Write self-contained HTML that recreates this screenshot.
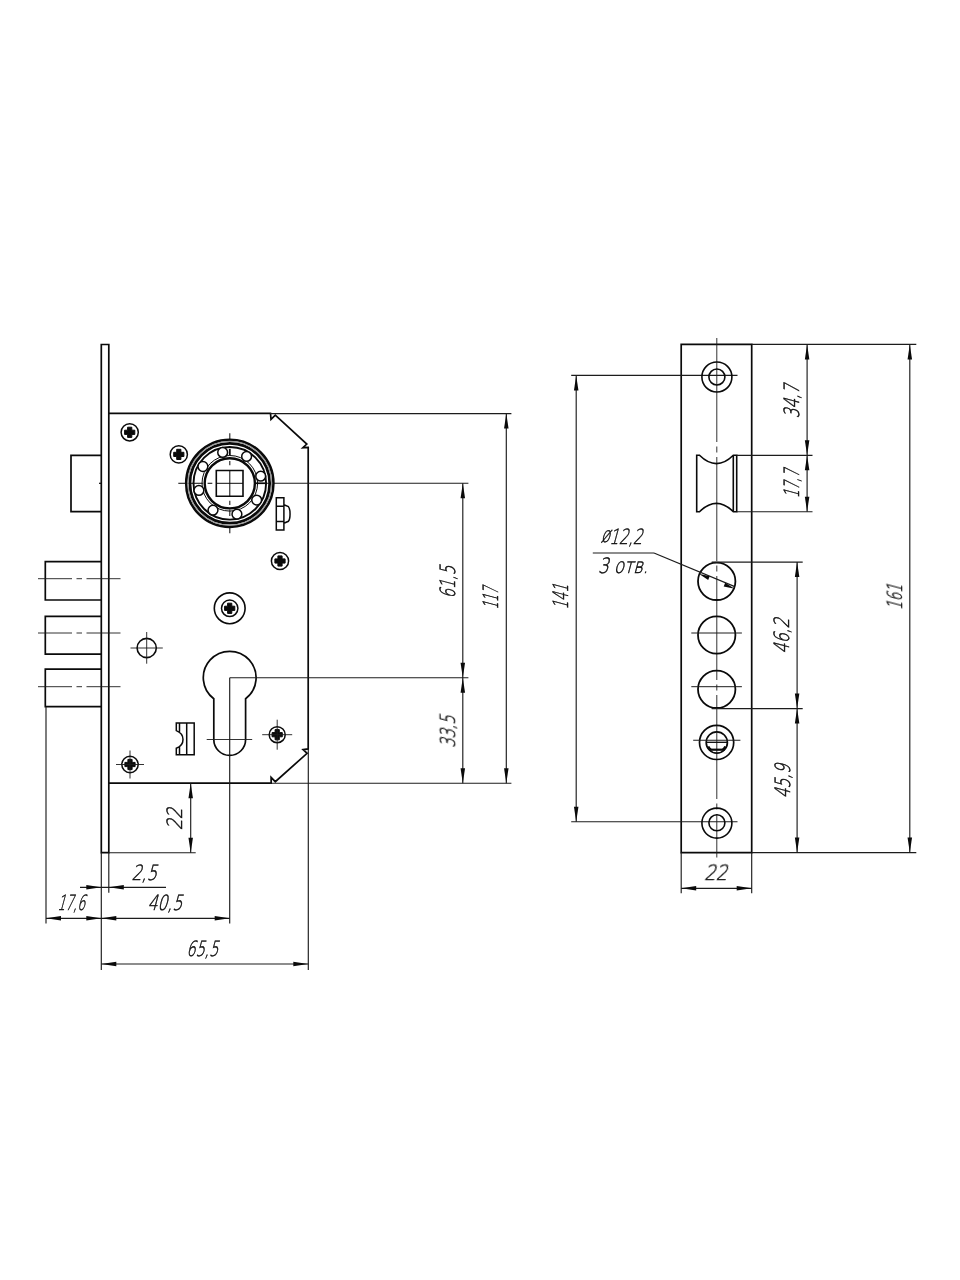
<!DOCTYPE html>
<html lang="ru"><head><meta charset="utf-8"><title>Чертёж замка</title>
<style>
html,body{margin:0;padding:0;background:#fff}
svg{display:block}
.t{font-family:"DejaVu Sans","Liberation Sans",sans-serif;font-weight:200;fill:#0c0c0c;stroke:#0c0c0c;stroke-width:0.5}
</style></head><body>
<svg width="960" height="1280" viewBox="0 0 960 1280">
<rect width="960" height="1280" fill="#fff"/>
<path d="M101.3,344.5 H108.8 V852.7 H101.3 Z" fill="none" stroke="#0a0a0a" stroke-width="1.7" stroke-linejoin="miter" />
<path d="M108.8,413.4 H270.5 L271,419.4 L275.3,415.2 L306.8,444 L302.8,447.7 L308.2,447.5 V748.9 L303.1,749.6 L307.1,753.3 L275.3,781.7 L271.1,777.3 L271.2,783.2 H108.8" fill="none" stroke="#0a0a0a" stroke-width="1.7" stroke-linejoin="miter" />
<path d="M101.3,455.3 H71 V511.7 H101.3" fill="none" stroke="#0a0a0a" stroke-width="1.7" stroke-linejoin="miter" />
<line x1="99" y1="483.3" x2="101.3" y2="483.3" stroke="#0a0a0a" stroke-width="1.2"/>
<path d="M101.3,561.7 H45.3 V600 H101.3" fill="none" stroke="#0a0a0a" stroke-width="1.7" stroke-linejoin="miter" />
<path d="M101.3,616.3 H45.3 V654.2 H101.3" fill="none" stroke="#0a0a0a" stroke-width="1.7" stroke-linejoin="miter" />
<path d="M101.3,669.2 H45.3 V706.7 H101.3" fill="none" stroke="#0a0a0a" stroke-width="1.7" stroke-linejoin="miter" />
<line x1="38" y1="578.7" x2="121.3" y2="578.7" stroke="#1c1c1c" stroke-width="0.9" stroke-dasharray="34 4.5 5.5 4.5"/>
<line x1="38" y1="633" x2="121.3" y2="633" stroke="#1c1c1c" stroke-width="0.9" stroke-dasharray="34 4.5 5.5 4.5"/>
<line x1="38" y1="686.7" x2="121.3" y2="686.7" stroke="#1c1c1c" stroke-width="0.9" stroke-dasharray="34 4.5 5.5 4.5"/>
<line x1="229.8" y1="433.3" x2="229.8" y2="440.5" stroke="#1c1c1c" stroke-width="1.1"/>
<line x1="229.8" y1="461" x2="229.8" y2="465.3" stroke="#1c1c1c" stroke-width="1.1"/>
<line x1="229.8" y1="500.7" x2="229.8" y2="504.9" stroke="#1c1c1c" stroke-width="1.1"/>
<line x1="229.8" y1="509.5" x2="229.8" y2="516" stroke="#1c1c1c" stroke-width="1.1"/>
<line x1="229.8" y1="526.5" x2="229.8" y2="533.3" stroke="#1c1c1c" stroke-width="1.1"/>
<line x1="178.3" y1="483.3" x2="203" y2="483.3" stroke="#1c1c1c" stroke-width="1.1"/>
<line x1="207.6" y1="483.3" x2="212.3" y2="483.3" stroke="#1c1c1c" stroke-width="1.1"/>
<line x1="255" y1="483.3" x2="468.4" y2="483.3" stroke="#1c1c1c" stroke-width="1.1"/>
<circle cx="229.8" cy="483.3" r="43.6" fill="none" stroke="#0a0a0a" stroke-width="2.6"/>
<circle cx="229.8" cy="483.3" r="39.9" fill="none" stroke="#0a0a0a" stroke-width="2.8"/>
<circle cx="229.8" cy="483.3" r="41.85" fill="none" stroke="#9a9a9a" stroke-width="1.3"/>
<line x1="229.8" y1="448.8" x2="229.8" y2="455.2" stroke="#0a0a0a" stroke-width="1.8"/>
<circle cx="229.8" cy="483.3" r="36.3" fill="none" stroke="#0a0a0a" stroke-width="1.9"/>
<circle cx="229.8" cy="483.3" r="27.8" fill="none" stroke="#0a0a0a" stroke-width="1.0"/>
<circle cx="229.8" cy="483.3" r="25.1" fill="none" stroke="#0a0a0a" stroke-width="2.4"/>
<circle cx="260.69" cy="476.17" r="4.9" fill="#fff" stroke="#0a0a0a" stroke-width="1.5"/>
<circle cx="256.68" cy="500.1" r="4.9" fill="#fff" stroke="#0a0a0a" stroke-width="1.5"/>
<circle cx="236.93" cy="514.19" r="4.9" fill="#fff" stroke="#0a0a0a" stroke-width="1.5"/>
<circle cx="213.0" cy="510.18" r="4.9" fill="#fff" stroke="#0a0a0a" stroke-width="1.5"/>
<circle cx="198.91" cy="490.43" r="4.9" fill="#fff" stroke="#0a0a0a" stroke-width="1.5"/>
<circle cx="202.92" cy="466.5" r="4.9" fill="#fff" stroke="#0a0a0a" stroke-width="1.5"/>
<circle cx="222.67" cy="452.41" r="4.9" fill="#fff" stroke="#0a0a0a" stroke-width="1.5"/>
<circle cx="246.6" cy="456.42" r="4.9" fill="#fff" stroke="#0a0a0a" stroke-width="1.5"/>
<path d="M216.3,470.5 H243 V496.3 H216.3 Z" fill="none" stroke="#0a0a0a" stroke-width="1.6" stroke-linejoin="miter" />
<line x1="229.8" y1="470.5" x2="229.8" y2="496.3" stroke="#0a0a0a" stroke-width="1.0"/>
<line x1="216.3" y1="483.3" x2="243" y2="483.3" stroke="#0a0a0a" stroke-width="1.0"/>
<line x1="255" y1="483.3" x2="266.5" y2="483.3" stroke="#0a0a0a" stroke-width="1.6"/>
<path d="M276.3,497.7 H283.9 V530 H276.3 Z M276.3,506.2 H283.9 M276.3,521.4 H283.9 M283.9,504.8 L288.4,506.6 C290.6,509.5 290.6,518.5 288.4,521.3 L283.9,523.2" fill="none" stroke="#0a0a0a" stroke-width="1.5" stroke-linejoin="miter" />
<circle cx="129.7" cy="432.3" r="8.6" fill="none" stroke="#0a0a0a" stroke-width="1.5"/>
<path d="M124.6,430.2 H127.6 V427.2 H131.79999999999998 V430.2 H134.79999999999998 V434.40000000000003 H131.79999999999998 V437.40000000000003 H127.6 V434.40000000000003 H124.6 Z" fill="#0a0a0a" stroke="#0a0a0a" stroke-width="1" stroke-linejoin="round"/>
<circle cx="178.8" cy="454.4" r="8.6" fill="none" stroke="#0a0a0a" stroke-width="1.5"/>
<path d="M173.70000000000002,452.29999999999995 H176.70000000000002 V449.29999999999995 H180.9 V452.29999999999995 H183.9 V456.5 H180.9 V459.5 H176.70000000000002 V456.5 H173.70000000000002 Z" fill="#0a0a0a" stroke="#0a0a0a" stroke-width="1" stroke-linejoin="round"/>
<circle cx="280" cy="561" r="8.6" fill="none" stroke="#0a0a0a" stroke-width="1.5"/>
<path d="M274.9,558.9 H277.9 V555.9 H282.1 V558.9 H285.1 V563.1 H282.1 V566.1 H277.9 V563.1 H274.9 Z" fill="#0a0a0a" stroke="#0a0a0a" stroke-width="1" stroke-linejoin="round"/>
<circle cx="130" cy="764.5" r="8.2" fill="none" stroke="#0a0a0a" stroke-width="1.5"/>
<path d="M124.9,762.4 H127.9 V759.4 H132.1 V762.4 H135.1 V766.6 H132.1 V769.6 H127.9 V766.6 H124.9 Z" fill="#0a0a0a" stroke="#0a0a0a" stroke-width="1" stroke-linejoin="round"/>
<line x1="116" y1="764.5" x2="144" y2="764.5" stroke="#1c1c1c" stroke-width="0.9"/>
<line x1="130" y1="750.5" x2="130" y2="778.5" stroke="#1c1c1c" stroke-width="0.9"/>
<circle cx="277.2" cy="734.7" r="8.0" fill="none" stroke="#0a0a0a" stroke-width="1.5"/>
<path d="M272.09999999999997,732.6 H275.09999999999997 V729.6 H279.3 V732.6 H282.3 V736.8000000000001 H279.3 V739.8000000000001 H275.09999999999997 V736.8000000000001 H272.09999999999997 Z" fill="#0a0a0a" stroke="#0a0a0a" stroke-width="1" stroke-linejoin="round"/>
<line x1="262.2" y1="734.7" x2="292.2" y2="734.7" stroke="#1c1c1c" stroke-width="0.9"/>
<line x1="277.2" y1="719.7" x2="277.2" y2="749.7" stroke="#1c1c1c" stroke-width="0.9"/>
<circle cx="229.7" cy="608.3" r="15.4" fill="none" stroke="#0a0a0a" stroke-width="1.6"/>
<circle cx="229.7" cy="608.3" r="8.2" fill="none" stroke="#0a0a0a" stroke-width="1.5"/>
<path d="M224.6,606.1999999999999 H227.6 V603.1999999999999 H231.79999999999998 V606.1999999999999 H234.79999999999998 V610.4 H231.79999999999998 V613.4 H227.6 V610.4 H224.6 Z" fill="#0a0a0a" stroke="#0a0a0a" stroke-width="1" stroke-linejoin="round"/>
<circle cx="146.7" cy="648" r="9.6" fill="none" stroke="#0a0a0a" stroke-width="1.6"/>
<line x1="130.5" y1="648" x2="162.8" y2="648" stroke="#1c1c1c" stroke-width="0.9"/>
<line x1="146.7" y1="632" x2="146.7" y2="663.7" stroke="#1c1c1c" stroke-width="0.9"/>
<path d="M213.79999999999998,698.77 A26.4,26.4 0 1 1 245.6,698.77 V739.5 A15.9,15.9 0 0 1 213.79999999999998,739.5 Z" fill="none" stroke="#0a0a0a" stroke-width="1.7" stroke-linejoin="miter" />
<line x1="206.7" y1="739.5" x2="252.2" y2="739.5" stroke="#1c1c1c" stroke-width="0.9"/>
<path d="M176.3,723.1 H194.2 V754.8 H176.3 V748.3 C181,746.5 183,742.5 183,739.4 C183,736 181,732.5 176.3,730.6 Z M186.7,723.1 V754.8 M179.5,723.1 V731.8 M179.5,747.2 V754.8" fill="none" stroke="#0a0a0a" stroke-width="1.5" stroke-linejoin="miter" />
<line x1="270" y1="413.6" x2="511.4" y2="413.6" stroke="#1c1c1c" stroke-width="1.15"/>
<line x1="270" y1="783.2" x2="511.4" y2="783.2" stroke="#1c1c1c" stroke-width="1.15"/>
<line x1="506.3" y1="413.6" x2="506.3" y2="783.2" stroke="#1c1c1c" stroke-width="1.15"/>
<polygon points="506.30,413.60 508.55,428.60 504.05,428.60" fill="#0a0a0a"/>
<polygon points="506.30,783.20 504.05,768.20 508.55,768.20" fill="#0a0a0a"/>
<line x1="229.7" y1="677.7" x2="468.4" y2="677.7" stroke="#1c1c1c" stroke-width="1.15"/>
<line x1="462.8" y1="483.3" x2="462.8" y2="783.2" stroke="#1c1c1c" stroke-width="1.15"/>
<polygon points="462.80,483.30 465.05,498.30 460.55,498.30" fill="#0a0a0a"/>
<polygon points="462.80,677.70 460.55,662.70 465.05,662.70" fill="#0a0a0a"/>
<polygon points="462.80,677.70 465.05,692.70 460.55,692.70" fill="#0a0a0a"/>
<polygon points="462.80,783.20 460.55,768.20 465.05,768.20" fill="#0a0a0a"/>
<line x1="229.7" y1="677.7" x2="229.7" y2="923.5" stroke="#1c1c1c" stroke-width="1.15"/>
<line x1="108.8" y1="852.7" x2="195.7" y2="852.7" stroke="#1c1c1c" stroke-width="1.15"/>
<line x1="190.7" y1="783.2" x2="190.7" y2="852.7" stroke="#1c1c1c" stroke-width="1.15"/>
<polygon points="190.70,783.20 192.95,798.20 188.45,798.20" fill="#0a0a0a"/>
<polygon points="190.70,852.70 188.45,837.70 192.95,837.70" fill="#0a0a0a"/>
<line x1="108.8" y1="852.7" x2="108.8" y2="892.7" stroke="#1c1c1c" stroke-width="1.15"/>
<line x1="80" y1="887.3" x2="166" y2="887.3" stroke="#1c1c1c" stroke-width="1.15"/>
<polygon points="101.30,887.30 86.30,889.55 86.30,885.05" fill="#0a0a0a"/>
<polygon points="108.80,887.30 123.80,885.05 123.80,889.55" fill="#0a0a0a"/>
<line x1="46" y1="706.7" x2="46" y2="923.5" stroke="#1c1c1c" stroke-width="1.15"/>
<line x1="101.3" y1="852.7" x2="101.3" y2="970" stroke="#1c1c1c" stroke-width="1.15"/>
<line x1="46" y1="918.3" x2="229.7" y2="918.3" stroke="#1c1c1c" stroke-width="1.15"/>
<polygon points="46.00,918.30 61.00,916.05 61.00,920.55" fill="#0a0a0a"/>
<polygon points="101.30,918.30 86.30,920.55 86.30,916.05" fill="#0a0a0a"/>
<polygon points="101.30,918.30 116.30,916.05 116.30,920.55" fill="#0a0a0a"/>
<polygon points="229.70,918.30 214.70,920.55 214.70,916.05" fill="#0a0a0a"/>
<line x1="308.3" y1="748.9" x2="308.3" y2="970" stroke="#1c1c1c" stroke-width="1.15"/>
<line x1="101.3" y1="964" x2="308.3" y2="964" stroke="#1c1c1c" stroke-width="1.15"/>
<polygon points="101.30,964.00 116.30,961.75 116.30,966.25" fill="#0a0a0a"/>
<polygon points="308.30,964.00 293.30,966.25 293.30,961.75" fill="#0a0a0a"/>
<path d="M681.2,344.4 H751.7 V852.6 H681.2 Z" fill="none" stroke="#0a0a0a" stroke-width="1.7" stroke-linejoin="miter" />
<line x1="716.8" y1="338" x2="716.8" y2="857.5" stroke="#1c1c1c" stroke-width="0.9" stroke-dasharray="104 4.5 6 4.5"/>
<line x1="571.2" y1="375.4" x2="737.5" y2="375.4" stroke="#1c1c1c" stroke-width="1.15"/>
<circle cx="716.9" cy="377.0" r="15.0" fill="none" stroke="#0a0a0a" stroke-width="1.6"/>
<circle cx="716.9" cy="377.0" r="8.0" fill="none" stroke="#0a0a0a" stroke-width="1.6"/>
<line x1="571.2" y1="821.7" x2="737.5" y2="821.7" stroke="#1c1c1c" stroke-width="1.15"/>
<circle cx="716.9" cy="823.1" r="15.0" fill="none" stroke="#0a0a0a" stroke-width="1.6"/>
<circle cx="716.9" cy="822.8" r="8.0" fill="none" stroke="#0a0a0a" stroke-width="1.6"/>
<path d="M696.7,455.3 H699.5 Q716.5,472 733.3,455.3 H736.7 V511.7 H733.3 Q716.5,495 699.5,511.7 H696.7 Z M733.3,455.3 V511.7" fill="none" stroke="#0a0a0a" stroke-width="1.6" stroke-linejoin="miter" />
<circle cx="716.7" cy="581.3" r="18.7" fill="none" stroke="#0a0a0a" stroke-width="1.8"/>
<circle cx="716.7" cy="635.0" r="18.7" fill="none" stroke="#0a0a0a" stroke-width="1.8"/>
<circle cx="716.7" cy="689.3" r="18.7" fill="none" stroke="#0a0a0a" stroke-width="1.8"/>
<line x1="691.3" y1="633" x2="741.9" y2="633" stroke="#1c1c1c" stroke-width="1.0"/>
<line x1="691.3" y1="686.7" x2="741.9" y2="686.7" stroke="#1c1c1c" stroke-width="1.0"/>
<circle cx="716.6" cy="742.4" r="17.1" fill="none" stroke="#0a0a0a" stroke-width="1.7"/>
<circle cx="716.8" cy="742.5" r="10.6" fill="none" stroke="#0a0a0a" stroke-width="1.7"/>
<line x1="693.2" y1="740.3" x2="740.4" y2="740.3" stroke="#1c1c1c" stroke-width="1.1"/>
<line x1="706.3" y1="742.3" x2="727.3" y2="742.3" stroke="#0a0a0a" stroke-width="1.3"/>
<line x1="709.3" y1="749.7" x2="724.6" y2="749.7" stroke="#0a0a0a" stroke-width="2.2"/>
<path d="M725.5,746.56 A9.6,9.6 0 0 1 722.97,749.85" fill="none" stroke="#0a0a0a" stroke-width="2.6" stroke-linejoin="miter" />
<path d="M708.1,746.56 A9.6,9.6 0 0 0 710.63,749.85" fill="none" stroke="#0a0a0a" stroke-width="2.6" stroke-linejoin="miter" />
<line x1="592.8" y1="553" x2="654" y2="553" stroke="#1c1c1c" stroke-width="1.15"/>
<line x1="654" y1="553" x2="734.2" y2="586.4" stroke="#1c1c1c" stroke-width="1.15"/>
<polygon points="698.79,573.84 709.71,576.22 708.18,579.92" fill="#0a0a0a"/>
<polygon points="734.61,588.76 723.69,586.38 725.22,582.68" fill="#0a0a0a"/>
<line x1="751.7" y1="344.4" x2="916.3" y2="344.4" stroke="#1c1c1c" stroke-width="1.15"/>
<line x1="751.7" y1="852.6" x2="916.3" y2="852.6" stroke="#1c1c1c" stroke-width="1.15"/>
<line x1="909.8" y1="344.4" x2="909.8" y2="852.6" stroke="#1c1c1c" stroke-width="1.15"/>
<polygon points="909.80,344.40 912.05,359.40 907.55,359.40" fill="#0a0a0a"/>
<polygon points="909.80,852.60 907.55,837.60 912.05,837.60" fill="#0a0a0a"/>
<line x1="736.7" y1="455.3" x2="812.5" y2="455.3" stroke="#1c1c1c" stroke-width="1.15"/>
<line x1="736.7" y1="511.7" x2="812.5" y2="511.7" stroke="#1c1c1c" stroke-width="1.15"/>
<line x1="807.1" y1="344.4" x2="807.1" y2="511.7" stroke="#1c1c1c" stroke-width="1.15"/>
<polygon points="807.10,344.40 809.35,359.40 804.85,359.40" fill="#0a0a0a"/>
<polygon points="807.10,455.30 804.85,440.30 809.35,440.30" fill="#0a0a0a"/>
<polygon points="807.10,455.30 809.35,470.30 804.85,470.30" fill="#0a0a0a"/>
<polygon points="807.10,511.70 804.85,496.70 809.35,496.70" fill="#0a0a0a"/>
<line x1="711.7" y1="562.1" x2="802.7" y2="562.1" stroke="#1c1c1c" stroke-width="1.15"/>
<line x1="711.7" y1="708.6" x2="802.7" y2="708.6" stroke="#1c1c1c" stroke-width="1.15"/>
<line x1="797.1" y1="562.1" x2="797.1" y2="852.6" stroke="#1c1c1c" stroke-width="1.15"/>
<polygon points="797.10,562.10 799.35,577.10 794.85,577.10" fill="#0a0a0a"/>
<polygon points="797.10,708.60 794.85,693.60 799.35,693.60" fill="#0a0a0a"/>
<polygon points="797.10,708.60 799.35,723.60 794.85,723.60" fill="#0a0a0a"/>
<polygon points="797.10,852.60 794.85,837.60 799.35,837.60" fill="#0a0a0a"/>
<line x1="576.2" y1="375.4" x2="576.2" y2="821.7" stroke="#1c1c1c" stroke-width="1.15"/>
<polygon points="576.20,375.40 578.45,390.40 573.95,390.40" fill="#0a0a0a"/>
<polygon points="576.20,821.70 573.95,806.70 578.45,806.70" fill="#0a0a0a"/>
<line x1="681.2" y1="852.6" x2="681.2" y2="893.3" stroke="#1c1c1c" stroke-width="1.15"/>
<line x1="751.7" y1="852.6" x2="751.7" y2="893.3" stroke="#1c1c1c" stroke-width="1.15"/>
<line x1="681.2" y1="888.3" x2="751.7" y2="888.3" stroke="#1c1c1c" stroke-width="1.15"/>
<polygon points="681.20,888.30 696.20,886.05 696.20,890.55" fill="#0a0a0a"/>
<polygon points="751.70,888.30 736.70,890.55 736.70,886.05" fill="#0a0a0a"/>
<g opacity="0.999">
<text transform="translate(144.12,879.6) skewX(-15) scale(0.7569,1)" font-size="21.0" text-anchor="middle" class="t">2,5</text>
<text transform="translate(71.12,909.6) skewX(-15) scale(0.5939,1)" font-size="21.0" text-anchor="middle" class="t">17,6</text>
<text transform="translate(164.75,909.6) skewX(-15) scale(0.7418,1)" font-size="21.0" text-anchor="middle" class="t">40,5</text>
<text transform="translate(202.25,955.6) skewX(-15) scale(0.683,1)" font-size="21.0" text-anchor="middle" class="t">65,5</text>
<text transform="translate(715.75,879.7) skewX(-15) scale(0.8587,1)" font-size="21.0" text-anchor="middle" class="t">22</text>
<text transform="translate(621.25,544.1) skewX(-15) scale(0.7067,1)" font-size="21.0" text-anchor="middle" class="t"><tspan dy="-2.5">ø</tspan><tspan dy="2.5">12,2</tspan></text>
<text transform="translate(623.0,573.2) skewX(-15) scale(0.787,1)" font-size="21.0" text-anchor="middle" class="t">3 отв.</text>
<text transform="translate(498.3,598.5) rotate(-90) skewX(-15) scale(0.555,1)" font-size="21.0" text-anchor="middle" class="t">117</text>
<text transform="translate(568.2,597.0) rotate(-90) skewX(-15) scale(0.6189,1)" font-size="21.0" text-anchor="middle" class="t">141</text>
<text transform="translate(901.8,597.25) rotate(-90) skewX(-15) scale(0.6305,1)" font-size="21.0" text-anchor="middle" class="t">161</text>
<text transform="translate(454.9,582.25) rotate(-90) skewX(-15) scale(0.6941,1)" font-size="21.0" text-anchor="middle" class="t">61,5</text>
<text transform="translate(454.9,731.75) rotate(-90) skewX(-15) scale(0.6904,1)" font-size="21.0" text-anchor="middle" class="t">33,5</text>
<text transform="translate(182.0,819.25) rotate(-90) skewX(-15) scale(0.8288,1)" font-size="21.0" text-anchor="middle" class="t">22</text>
<text transform="translate(799.0,401.5) rotate(-90) skewX(-15) scale(0.7248,1)" font-size="21.0" text-anchor="middle" class="t">34,7</text>
<text transform="translate(798.8,484.0) rotate(-90) skewX(-15) scale(0.6148,1)" font-size="21.0" text-anchor="middle" class="t">17,7</text>
<text transform="translate(789.3,636.0) rotate(-90) skewX(-15) scale(0.7589,1)" font-size="21.0" text-anchor="middle" class="t">46,2</text>
<text transform="translate(789.5,781.25) rotate(-90) skewX(-15) scale(0.7246,1)" font-size="21.0" text-anchor="middle" class="t">45,9</text>
</g>
</svg>
</body></html>
